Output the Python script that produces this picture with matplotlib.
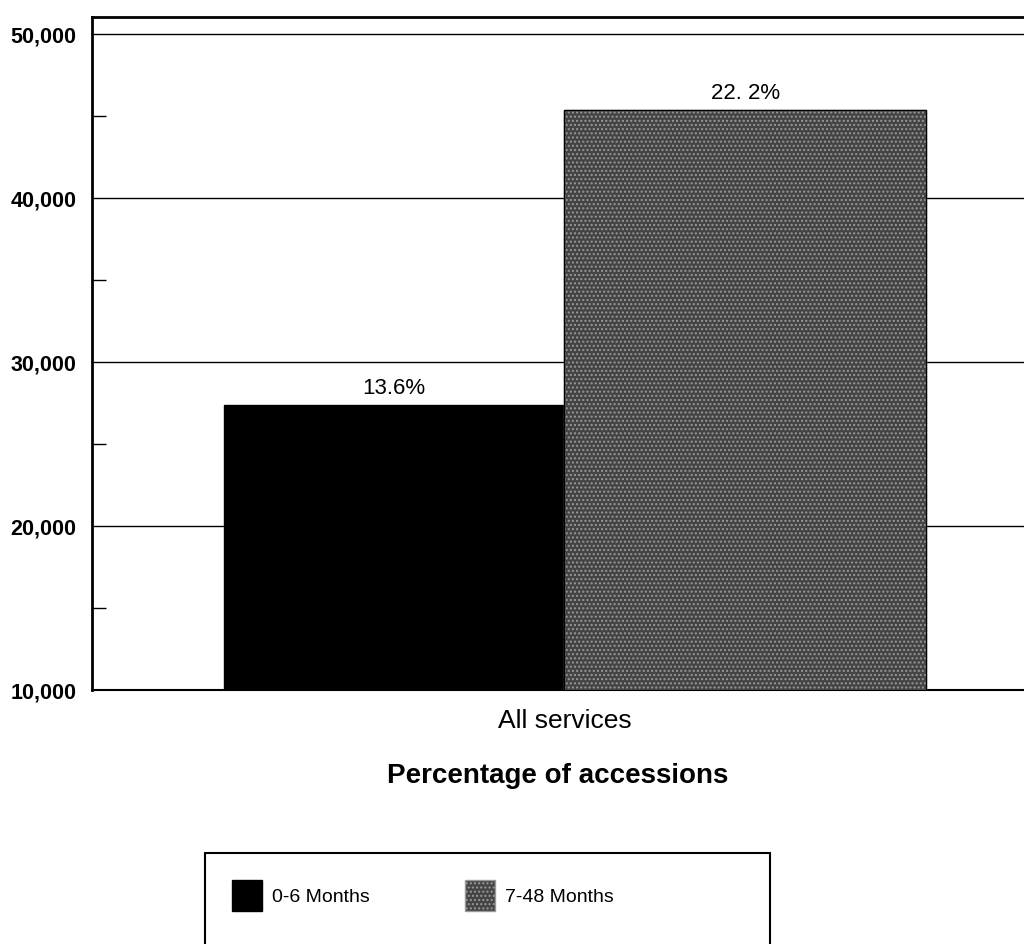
import matplotlib
matplotlib.use("Agg")
import matplotlib.pyplot as plt
from matplotlib.patches import Patch, Rectangle
from matplotlib.ticker import MultipleLocator, FuncFormatter

plt.rcParams['font.family'] = ['Liberation Sans', 'DejaVu Sans']

categories = ["0-6 Months", "7-48 Months"]
values = [27400, 45400]
labels = ["13.6%", "22. 2%"]
colors = ["#000000", "#444444"]
group_label = "All services"
xlabel = "Percentage of accessions"

W, H = 1024, 944
fig = plt.figure(figsize=(W / 100, H / 100), dpi=100)
ax = fig.add_axes([92 / W, 1 - 690 / H, (W - 92) / W, (690 - 17) / H])

lefts = [0.0, 0.97]
widths = [0.97, 1.03]
bars = ax.bar(lefts, values, width=widths, align="edge", color=colors,
              edgecolor="black", linewidth=1.0, zorder=3)
bars[1].set_hatch("....")
bars[1].set_edgecolor("#999999")
ax.bar([lefts[1]], [values[1]], width=widths[1], align="edge", color="none",
       edgecolor="black", linewidth=1.0, zorder=4)

for l, w, v, t in zip(lefts, widths, values, labels):
    ax.text(l + w / 2, v + 320, t, ha="center", va="bottom", fontsize=16, zorder=5)

ax.set_ylim(10000, 51050)
ax.set_xlim(-132 / 351, (1024 - 224) / 351)
ax.yaxis.set_major_locator(MultipleLocator(10000))
ax.yaxis.set_minor_locator(MultipleLocator(5000))
ax.yaxis.set_major_formatter(FuncFormatter(lambda v, p: f"{int(v):,}"))
ax.grid(axis="y", which="major", color="black", linewidth=1.0, zorder=0)
ax.tick_params(axis="y", which="major", length=0, labelsize=15.5, pad=11)
ax.tick_params(axis="y", which="minor", length=10, width=1, direction="in")
for lab in ax.get_yticklabels():
    lab.set_fontweight("bold")
ax.set_xticks([0.97])
ax.set_xticklabels([group_label], fontsize=19)
ax.tick_params(axis="x", length=0, pad=14)
ax.set_xlabel(xlabel, fontsize=20, fontweight="bold", labelpad=21)

ax.spines["right"].set_visible(False)
ax.spines["left"].set_linewidth(2)
ax.spines["top"].set_linewidth(2)
ax.spines["bottom"].set_linewidth(1.5)

# legend frame
fig.patches.append(Rectangle((205 / W, -0.01), 565 / W, (944 - 853) / H + 0.01,
                             transform=fig.transFigure, facecolor="white",
                             edgecolor="black", linewidth=1.5))
handles = [Patch(facecolor=colors[0], edgecolor="black"),
           Patch(facecolor=colors[1], edgecolor="#999999", hatch="....")]
leg = fig.legend(handles, categories, loc="upper left",
                 bbox_to_anchor=(232 / W, 1 - 880 / H),
                 ncol=2, fontsize=14, frameon=False,
                 handlelength=1.55, handleheight=2.1, handletextpad=0.5,
                 columnspacing=4.9, borderpad=0, borderaxespad=0)

fig.savefig("out.png", dpi=100)
